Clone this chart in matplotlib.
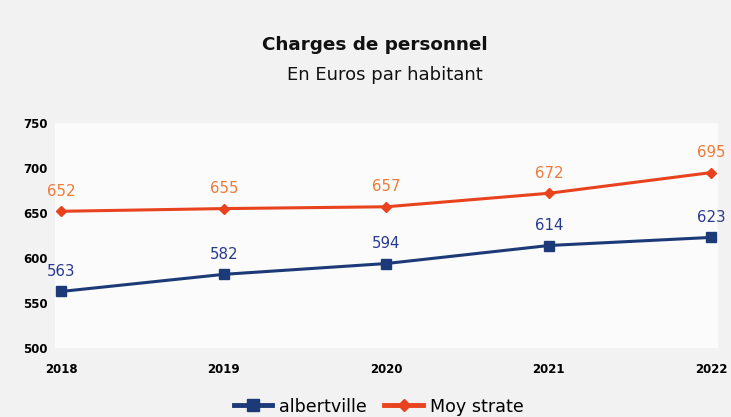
import matplotlib
matplotlib.use("Agg")
import matplotlib.pyplot as plt
from matplotlib.lines import Line2D

years = [2018, 2019, 2020, 2021, 2022]
albertville = [563, 582, 594, 614, 623]
moy_strate = [652, 655, 657, 672, 695]
yticks = [500, 550, 600, 650, 700, 750]

blue = "#1d3a78"
red = "#e8431e"
blue_lbl = "#2a3a8f"
red_lbl = "#ee7a3a"

fig = plt.figure(figsize=(7.31, 4.17), dpi=100)
fig.patch.set_facecolor("#f2f2f2")
ax = fig.add_axes([0.075, 0.165, 0.907, 0.54])
ax.set_facecolor("#fbfbfb")

ax.plot(years, moy_strate, color=red, lw=2.2, marker="D", ms=5, zorder=3)
ax.plot(years, albertville, color=blue, lw=2.2, marker="s", ms=7, zorder=3)

for x, y in zip(years, moy_strate):
    ax.annotate(str(y), (x, y), xytext=(0, 9), textcoords="offset points",
                ha="center", va="bottom", color=red_lbl, fontsize=10.8)
for x, y in zip(years, albertville):
    ax.annotate(str(y), (x, y), xytext=(0, 9), textcoords="offset points",
                ha="center", va="bottom", color=blue_lbl, fontsize=10.8)

ax.set_xlim(2017.96, 2022.04)
ax.set_ylim(500, 750)
ax.set_xticks(years)
ax.set_xticklabels([str(y) for y in years], fontweight="bold", fontsize=8.5)
ax.set_yticks(yticks)
ax.set_yticklabels([str(v) for v in yticks], fontweight="bold", fontsize=8.5)
ax.tick_params(axis="x", length=0, pad=11)
ax.tick_params(axis="y", length=0, pad=5)
for s in ax.spines.values():
    s.set_visible(False)

fig.text(0.513, 0.893, "Charges de personnel", ha="center", va="center",
         fontsize=13.2, fontweight="bold", color="#111111")
fig.text(0.527, 0.82, "En Euros par habitant", ha="center", va="center",
         fontsize=13, color="#111111")

handles = [
    Line2D([], [], color=blue, lw=3.5, marker="s", ms=8),
    Line2D([], [], color=red, lw=3.5, marker="D", ms=6),
]
fig.legend(handles, ["albertville", "Moy strate"], loc="center",
           bbox_to_anchor=(0.518, 0.025), ncol=2, frameon=False,
           fontsize=12.6, handlelength=2.2, columnspacing=1.0, handletextpad=0.4)

fig.savefig("out.png", dpi=100, facecolor=fig.get_facecolor())
